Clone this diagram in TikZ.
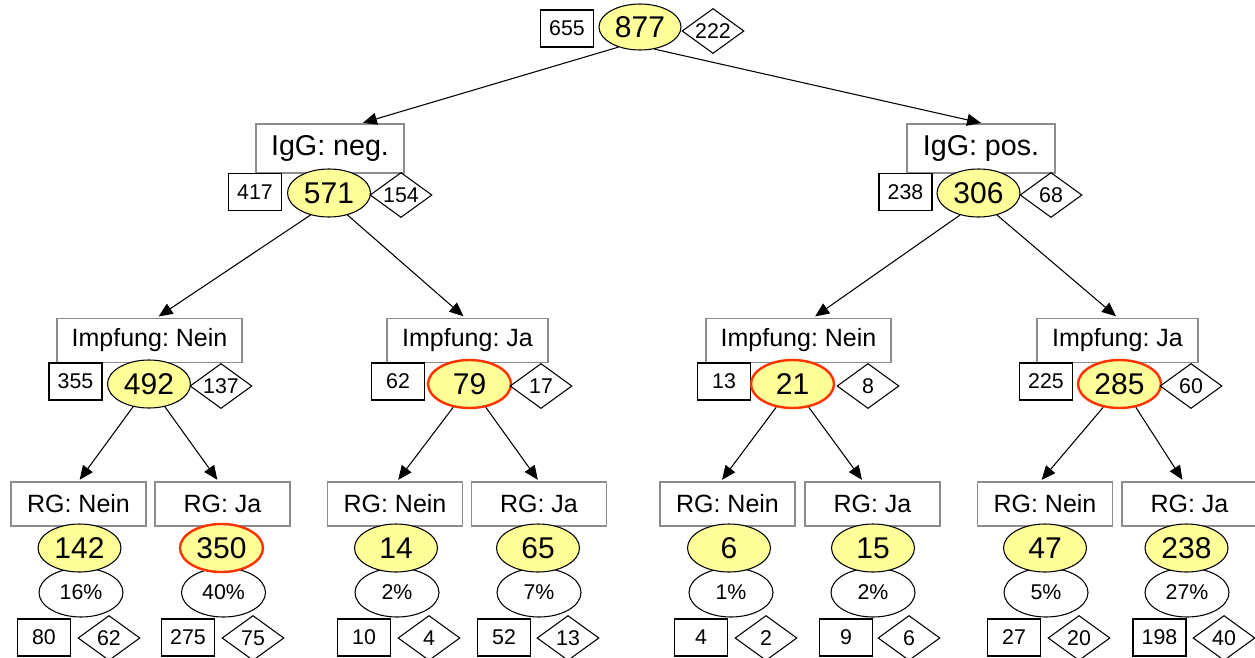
\documentclass[tikz,border=0pt]{standalone}
\usepackage{fontspec}
\setmainfont{Liberation Sans}
\usetikzlibrary{shapes.geometric,arrows.meta}
\definecolor{ylw}{HTML}{FFFF99}
\definecolor{redb}{HTML}{FF3300}
\definecolor{grayb}{HTML}{8C8C8C}
\frenchspacing
\tikzset{
  lblbox/.style={draw=grayb, line width=0.9pt, inner sep=0pt, minimum height=33.5pt,
    font=\fontsize{18.75pt}{20pt}\selectfont},
  igbox/.style={draw=grayb, line width=0.9pt, inner sep=0pt, minimum width=111pt, minimum height=36.75pt,
    font=\fontsize{21.5pt}{23pt}\selectfont},
  rgbox/.style={lblbox, minimum width=101.25pt, minimum height=33pt},
  numbox/.style={draw, line width=0.8pt, inner sep=0pt, minimum width=39.75pt, minimum height=27.75pt,
    font=\fontsize{16pt}{17pt}\selectfont},
  diabox/.style={draw, diamond, line width=0.8pt, inner sep=0pt, aspect=1.38, minimum width=46.5pt,
    minimum height=33.75pt, font=\fontsize{16pt}{17pt}\selectfont},
  bigell/.style={draw, ellipse, fill=ylw, line width=0.8pt, inner sep=0pt, minimum width=62.25pt,
    minimum height=36pt, font=\fontsize{22.5pt}{24pt}\selectfont},
  redell/.style={bigell, draw=redb, line width=1.8pt},
  pctell/.style={draw, ellipse, fill=white, line width=0.8pt, inner sep=0pt, minimum width=63pt,
    minimum height=36.75pt, font=\fontsize{16pt}{17pt}\selectfont},
  edge/.style={line width=0.8pt, -{Triangle[length=10.5pt,width=9pt]}, shorten >=1.5pt}
}
\begin{document}
\begin{tikzpicture}[x=0.75pt,y=-0.75pt]
\useasboundingbox (0,0) rectangle (1255,657);
% root
\node[numbox] (s655) at (567,28.5) {655};
\node[bigell, minimum width=61.5pt, minimum height=34.5pt] (e877) at (640,27) {877};
\node[diabox] (d222) at (713,31) {222};
% level 1
\node[igbox] (igneg) at (330,148.5) {IgG: neg.};
\node[numbox] (s417) at (255,192) {417};
\node[bigell] (e571) at (329,193) {571};
\node[diabox] (d154) at (401,195) {154};
\node[igbox] (igpos) at (981,148.5) {IgG: pos.};
\node[numbox] (s238a) at (905.5,192) {238};
\node[bigell] (e306) at (978.5,193) {306};
\node[diabox] (d68) at (1051,195) {68};
% level 2
\node[lblbox, minimum width=138.75pt] (impnL) at (149.5,340.5) {Impfung: Nein};
\node[numbox] (s355) at (75.5,381.5) {355};
\node[bigell] (e492) at (149,384) {492};
\node[diabox] (d137) at (221,386) {137};
\node[lblbox, minimum width=120.75pt] (impjL) at (467.5,340.5) {Impfung: Ja};
\node[numbox] (s62) at (398,381.5) {62};
\node[redell] (e79) at (469.5,384) {79};
\node[diabox] (d17) at (541,386) {17};
\node[lblbox, minimum width=138.75pt] (impnR) at (798.5,340.5) {Impfung: Nein};
\node[numbox] (s13) at (724,381.5) {13};
\node[redell] (e21) at (792.5,384) {21};
\node[diabox] (d8) at (868,386) {8};
\node[lblbox, minimum width=120.75pt] (impjR) at (1117.5,340.5) {Impfung: Ja};
\node[numbox] (s225) at (1046,381.5) {225};
\node[redell] (e285) at (1119.5,384) {285};
\node[diabox] (d60) at (1191,386) {60};
% level 3 leaves
\foreach \i/\bx/\ex/\px/\sx/\dx/\n/\p/\s/\d/\st in {
  1/78.5/79.5/81/44/109/142/16\%/80/62/bigell,
  2/222.5/221.5/223.5/188/253/350/40\%/275/75/redell,
  3/395/396/397/364/429/14/2\%/10/4/bigell,
  4/539/538/539/504/568/65/7\%/52/13/bigell,
  5/727.5/729/731/701/766/6/1\%/4/2/bigell,
  6/872.5/873/873/846/909/15/2\%/9/6/bigell,
  7/1045/1045/1046/1014/1079/47/5\%/27/20/bigell,
  8/1189.5/1186.5/1187/1159.5/1224/238/27\%/198/40/bigell}{
  \ifodd\i
    \node[rgbox] (rg\i) at (\bx,504) {RG: Nein};
  \else
    \node[rgbox] (rg\i) at (\bx,504) {RG: Ja};
  \fi
  \node[pctell] (pc\i) at (\px,592.5) {\p};
  \node[\st] (le\i) at (\ex,548) {\n};
  \node[numbox] (ls\i) at (\sx,637.5) {\s};
  \node[diabox] (ld\i) at (\dx,638) {\d};
}
% edges
\draw[edge] (e877.-137) -- ([xshift=23.25pt]igneg.north);
\draw[edge] (e877.-57) -- ([xshift=1.5pt]igpos.north);
\draw[edge] (e571.-130) -- ([xshift=5.6pt]impnL.north);
\draw[edge] (e571.-50) -- ([xshift=-1.9pt]impjL.north);
\draw[edge] (e306.-130) -- ([xshift=11.25pt]impnR.north);
\draw[edge] (e306.-50) -- (impjR.north);
\draw[edge] (e492.-125) -- (rg1.north);
\draw[edge] (e492.-55) -- ([xshift=-3pt]rg2.north);
\draw[edge] (e79.-125) -- ([xshift=1.5pt]rg3.north);
\draw[edge] (e79.-55) -- (rg4.north);
\draw[edge] (e21.-125) -- ([xshift=-5pt]rg5.north);
\draw[edge] (e21.-55) -- ([xshift=-7pt]rg6.north);
\draw[edge] (e285.-125) -- ([xshift=-3.5pt]rg7.north);
\draw[edge] (e285.-55) -- ([xshift=-4.5pt]rg8.north);
\end{tikzpicture}
\end{document}
